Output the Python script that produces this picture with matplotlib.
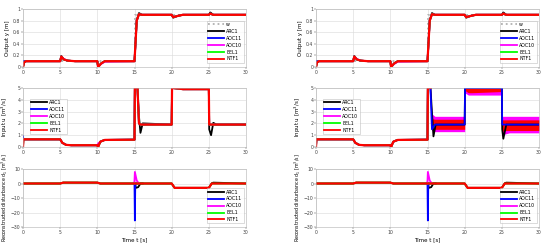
import matplotlib
matplotlib.use("Agg")
import matplotlib.pyplot as plt

# ---------------- data ----------------
# reference w
t_w = [0, 15.0, 15.0, 30]
w_ref = [0.1, 0.1, 0.9, 0.9]

# output y
t_y = [0, 0.15, 0.4, 5.0, 5.15, 5.5, 6.0, 7.0, 10.0, 10.1, 10.5, 11.0, 15.0, 15.3, 15.6, 16.0,
       20.0, 20.2, 20.8, 21.5, 25.0, 25.2, 25.6, 26.5, 30]
y_arc1 = [0, 0.08, 0.1, 0.1, 0.19, 0.13, 0.11, 0.1, 0.1, 0.0, 0.06, 0.1, 0.1, 0.8, 0.93, 0.9,
          0.9, 0.85, 0.88, 0.9, 0.9, 0.94, 0.9, 0.9, 0.9]
y_aoc11 = [0.1, 0.1, 0.1, 0.1, 0.18, 0.13, 0.11, 0.1, 0.1, 0.0, 0.06, 0.1, 0.1, 0.8, 0.91, 0.9,
           0.9, 0.86, 0.88, 0.9, 0.9, 0.92, 0.9, 0.9, 0.9]
y_aoc10 = [0, 0.08, 0.1, 0.1, 0.18, 0.14, 0.11, 0.1, 0.1, 0.0, 0.05, 0.09, 0.1, 0.8, 0.91, 0.9,
           0.9, 0.86, 0.88, 0.9, 0.9, 0.92, 0.9, 0.9, 0.9]
y_eel1 = [0, 0.08, 0.1, 0.1, 0.18, 0.13, 0.11, 0.1, 0.1, 0.0, 0.06, 0.1, 0.1, 0.8, 0.91, 0.9,
          0.9, 0.86, 0.88, 0.9, 0.9, 0.92, 0.9, 0.9, 0.9]
y_ntf1 = [0, 0.08, 0.1, 0.1, 0.18, 0.13, 0.11, 0.1, 0.1, 0.0, 0.06, 0.1, 0.1, 0.8, 0.91, 0.9,
          0.9, 0.86, 0.88, 0.9, 0.9, 0.92, 0.9, 0.9, 0.9]

# input u (left column)
t_u = [0, 0.05, 0.3, 5.0, 5.3, 5.8, 6.5, 10.0, 10.1, 10.4, 11.0, 15.0, 15.05, 15.4, 15.6, 15.8,
       16.1, 20.0, 20.05, 21.0, 21.5, 25.0, 25.05, 25.3, 25.6, 26.0, 30]
u_arc1 = [0, 0.65, 0.65, 0.65, 0.35, 0.18, 0.15, 0.15, 0.0, 0.45, 0.6, 0.62, 5, 5, 2.6, 1.2,
          2.0, 1.9, 5, 4.95, 4.9, 4.9, 1.5, 1.0, 2.05, 1.9, 1.9]
u_aoc11 = [0.9, 0.65, 0.65, 0.65, 0.35, 0.18, 0.15, 0.15, 0.05, 0.45, 0.6, 0.62, 5, 5, 2.0, 1.9,
           1.9, 1.9, 5, 4.95, 4.9, 4.9, 1.9, 1.9, 1.9, 1.9, 1.9]
u_aoc10 = [0, 0.65, 0.65, 0.65, 0.35, 0.18, 0.15, 0.15, 0.3, 0.45, 0.6, 0.62, 5, 5, 2.0, 1.9,
           1.9, 1.9, 5, 4.95, 4.9, 4.9, 1.9, 1.9, 1.9, 1.9, 1.9]
u_eel1 = [0, 0.65, 0.65, 0.65, 0.35, 0.18, 0.15, 0.15, 0.0, 0.45, 0.6, 0.62, 5, 5, 2.0, 1.9,
          1.9, 1.9, 5, 4.95, 4.9, 4.9, 1.9, 1.9, 1.9, 1.9, 1.9]
u_ntf1 = [0, 0.65, 0.65, 0.65, 0.35, 0.18, 0.15, 0.15, 0.0, 0.45, 0.6, 0.62, 5, 5, 2.0, 1.9,
          1.9, 1.9, 5, 4.95, 4.9, 4.9, 1.9, 1.9, 1.9, 1.9, 1.9]

# input u (right column) – chattering envelopes after t = 15.4
t_band = [15.4, 15.6, 16.0, 20.0, 20.0, 20.5, 21.0, 25.0, 25.0, 25.4, 26.0, 30]
band_aoc10_lo = [2.0, 1.4, 1.3, 1.3, 4.6, 4.4, 4.4, 4.4, 1.0, 1.1, 1.2, 1.2]
band_aoc10_hi = [5.0, 2.8, 2.6, 2.6, 5.0, 5.0, 5.0, 5.0, 2.6, 2.6, 2.6, 2.6]
band_ntf1_lo = [2.0, 1.6, 1.5, 1.5, 4.8, 4.6, 4.6, 4.7, 1.3, 1.4, 1.4, 1.4]
band_ntf1_hi = [5.0, 2.4, 2.35, 2.35, 5.0, 5.0, 5.0, 5.0, 2.3, 2.3, 2.3, 2.3]
t_ur = [0, 0.05, 0.3, 5.0, 5.3, 5.8, 6.5, 10.0, 10.1, 10.4, 11.0, 15.0, 15.05, 15.4]
ur_base = [0, 0.65, 0.65, 0.65, 0.35, 0.18, 0.15, 0.15, 0.0, 0.45, 0.6, 0.62, 5, 5]
t_ur_arc1 = [15.4, 15.8, 16.1, 20.0, 20.05, 25.0, 25.05, 25.2, 25.6, 30]
ur_arc1 = [5, 0.9, 1.9, 1.9, 5, 5, 1.5, 0.7, 1.9, 1.9]
t_ur_aoc11 = [15.4, 15.6, 16.0, 20.0, 20.05, 25.0, 25.05, 30]
ur_aoc11 = [5, 1.5, 1.9, 1.9, 5, 5, 1.9, 1.9]

# reconstructed disturbance d1
t_d = [0, 5.0, 5.4, 10.0, 10.4, 15.0, 20.0, 20.4, 25.0, 25.4, 25.6, 30]
d_ntf1 = [0, 0, 0.6, 0.6, 0, 0, 0, -3.0, -3.0, 0, 0, 0]
d_arc1 = [0, 0, 0.6, 0.6, 0, 0, 0, -3.0, -3.0, 0.2, 0.6, 0]
t_d_arc1_tr = [14.9, 15.0, 15.2, 15.5, 15.8, 16.1]
d_arc1_tr = [0, 0, -3.0, -2.5, 0, 0]
t_d_aoc11_tr = [14.95, 15.0, 15.05, 15.1, 15.2]
d_aoc11_tr = [0, -1.0, -25.5, -2.0, 0]
t_d_aoc10_tr = [14.95, 15.0, 15.05, 15.3, 15.6]
d_aoc10_tr = [0, 2.0, 8.0, 2.0, 0]

names = ["ARC1", "AOC11", "AOC10", "EEL1", "NTF1"]
colors = ["black", "blue", "magenta", (0.0, 1.0, 0.0), "red"]

# ---------------- figure ----------------
fig = plt.figure(figsize=(5.5, 2.47), dpi=100)
plt.rcParams['font.family'] = ['DejaVu Sans']

cols_x = [23 / 550, 316 / 550]
aw = 223 / 550
rows = [(9, 67), (88, 147), (169, 227)]
H = 247.0

lw = 1.3
lw_top = 1.6
tick_fs = 3.3
lab_fs = 4.0
leg_fs = 3.4
ylab_x = -0.058


def style(ax):
    ax.set_xlim(0, 30)
    ax.set_xticks(range(0, 31, 5))
    ax.grid(True, color="#d9d9d9", linewidth=0.4)
    ax.set_axisbelow(True)
    for s in ax.spines.values():
        s.set_color("#b0b0b0")
        s.set_linewidth(0.4)
    ax.tick_params(labelsize=tick_fs, length=1.2, width=0.3, colors="#404040", pad=0.8)
    ax.yaxis.set_label_coords(ylab_x, 0.5)


def legend(ax, **kw):
    leg = ax.legend(fontsize=leg_fs, frameon=True, fancybox=False, edgecolor="#b0b0b0",
                    handlelength=3.4, borderpad=0.3, labelspacing=0.4, handletextpad=0.4,
                    **kw)
    leg.get_frame().set_linewidth(0.4)
    for h in leg.get_lines():
        h.set_linewidth(lw)
    return leg


y_series = [y_arc1, y_aoc11, y_aoc10, y_eel1, y_ntf1]
u_series = [u_arc1, u_aoc11, u_aoc10, u_eel1, u_ntf1]
widths = [lw, lw, lw, lw, lw_top]

for c in range(2):
    x0 = cols_x[c]
    axs = []
    for (top, bot) in rows:
        ax = fig.add_axes([x0, 1 - bot / H, aw, (bot - top) / H])
        axs.append(ax)

    # ---- output ----
    ax = axs[0]
    ax.plot(t_w, w_ref, color="#b0b0b0", linestyle=":", linewidth=lw, label="w")
    for s, n, col, wd in zip(y_series, names, colors, widths):
        ax.plot(t_y, s, color=col, linewidth=wd, label=n)
    ax.set_ylim(0, 1)
    ax.set_yticks([0, 0.2, 0.4, 0.6, 0.8, 1])
    ax.set_yticklabels(["0", "0.2", "0.4", "0.6", "0.8", "1"])
    ax.set_ylabel("Output y [m]", fontsize=lab_fs)
    style(ax)
    legend(ax, loc="lower right", bbox_to_anchor=(1.0, 0.03))

    # ---- input ----
    ax = axs[1]
    if c == 0:
        for s, n, col, wd in zip(u_series, names, colors, widths):
            ax.plot(t_u, s, color=col, linewidth=wd, label=n)
    else:
        ax.plot(t_ur + t_ur_arc1, ur_base + ur_arc1, color=colors[0], linewidth=lw, label=names[0])
        ax.plot(t_ur + t_ur_aoc11, ur_base + ur_aoc11, color=colors[1], linewidth=lw, label=names[1])
        ax.plot(t_ur, ur_base, color=colors[2], linewidth=lw, label=names[2])
        ax.fill_between(t_band, band_aoc10_lo, band_aoc10_hi, color=colors[2], linewidth=0)
        ax.plot(t_ur, ur_base, color=colors[3], linewidth=lw, label=names[3])
        ax.plot(t_ur, ur_base, color=colors[4], linewidth=lw_top, label=names[4])
        ax.fill_between(t_band, band_ntf1_lo, band_ntf1_hi, color=colors[4], linewidth=0)
    ax.set_ylim(0, 5)
    ax.set_yticks(range(0, 6))
    ax.set_ylabel("Input u [m$^3$/s]", fontsize=lab_fs)
    style(ax)
    legend(ax, loc="center left", bbox_to_anchor=(0.02, 0.52))

    # ---- disturbance ----
    ax = axs[2]
    ax.plot(t_d, d_arc1, color=colors[0], linewidth=lw, label=names[0])
    ax.plot(t_d_arc1_tr, d_arc1_tr, color=colors[0], linewidth=lw)
    ax.plot(t_d_aoc11_tr, d_aoc11_tr, color=colors[1], linewidth=lw, label=names[1])
    ax.plot(t_d_aoc10_tr, d_aoc10_tr, color=colors[2], linewidth=lw, label=names[2])
    ax.plot(t_d, d_ntf1, color=colors[3], linewidth=lw, label=names[3])
    ax.plot(t_d, d_ntf1, color=colors[4], linewidth=lw_top, label=names[4])
    ax.set_ylim(-30, 10)
    ax.set_yticks([-30, -20, -10, 0, 10])
    ax.set_ylabel("Reconstructed disturbance d$_1$ [m$^3$/s]", fontsize=3.4)
    ax.set_xlabel("Time t [s]", fontsize=lab_fs, labelpad=1.5)
    style(ax)
    legend(ax, loc="lower right", bbox_to_anchor=(1.0, 0.02))

fig.savefig("out.png", dpi=100)
